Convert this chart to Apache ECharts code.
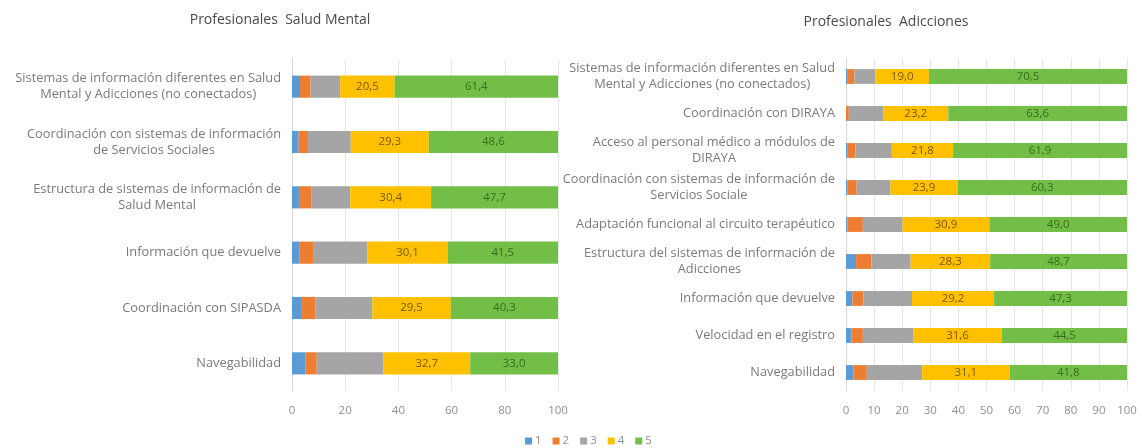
<!DOCTYPE html>
<html>
<head>
<meta charset="utf-8">
<script src="https://cdn.jsdelivr.net/npm/echarts@6/dist/echarts.min.js"></script>
<style>
  html, body { margin: 0; padding: 0; background: #fff; }
  #chart { width: 1142px; height: 448px; }
</style>
</head>
<body>
<div id="chart"></div>
<script>
// Profesionales Salud Mental (top to bottom)
var catsSM = [
  "Sistemas de información diferentes en Salud\nMental y Adicciones (no conectados)",
  "Coordinación con sistemas de información\nde Servicios Sociales",
  "Estructura de sistemas de información de\nSalud Mental",
  "Información que devuelve",
  "Coordinación con SIPASDA",
  "Navegabilidad"
];
var sm1 = [3.0, 2.5, 2.6, 2.7, 3.4, 5.0];
var sm2 = [4.0, 3.5, 4.8, 5.5, 5.5, 4.3];
var sm3 = [11.1, 16.1, 14.5, 20.2, 21.3, 25.0];
var sm4 = [20.5, 29.3, 30.4, 30.1, 29.5, 32.7];
var sm5 = [61.4, 48.6, 47.7, 41.5, 40.3, 33.0];

// Profesionales Adicciones (top to bottom)
var catsAD = [
  "Sistemas de información diferentes en Salud\nMental y Adicciones (no conectados)",
  "Coordinación con DIRAYA",
  "Acceso al personal médico a módulos de\nDIRAYA",
  "Coordinación con sistemas de información de\nServicios Sociale",
  "Adaptación funcional al circuito terapéutico",
  "Estructura del sistemas de información de\nAdicciones",
  "Información que devuelve",
  "Velocidad en el registro",
  "Navegabilidad"
];
var ad1 = [0.4, 0, 0.6, 0.5, 0.5, 3.6, 2.3, 2.0, 2.7];
var ad2 = [2.6, 1.0, 2.7, 3.3, 5.5, 5.4, 3.9, 4.0, 4.7];
var ad3 = [7.5, 12.2, 13.0, 12.0, 14.1, 14.0, 17.3, 17.9, 19.7];
var ad4 = [19.0, 23.2, 21.8, 23.9, 30.9, 28.3, 29.2, 31.6, 31.1];
var ad5 = [70.5, 63.6, 61.9, 60.3, 49.0, 48.7, 47.3, 44.5, 41.8];

var names = ["1", "2", "3", "4", "5"];
var colors = ["#5B9BD5", "#ED7D31", "#A5A5A5", "#FFC000", "#72BE46"];
var labelColors = [null, null, null, "#7a5a00", "#3b6b1f"];
var font = "'Open Sans', sans-serif";

var chart = echarts.init(document.getElementById("chart"));

// etiquetas de categoria: bloque alineado a la derecha, lineas centradas
function catLabel(v) {
  return v.split("\n").map(function (l) { return "{c|" + l + "}"; }).join("\n");
}

function makeX(idx, interval) {
  return {
    type: "value", gridIndex: idx, min: 0, max: 100, interval: interval,
    axisLine: { show: false }, axisTick: { show: false },
    axisLabel: { color: "#8f8f8f", fontSize: 11.5, fontFamily: font, margin: 14 },
    splitLine: { lineStyle: { color: "#e6e6e6" } }
  };
}
function makeY(idx, cats) {
  return {
    type: "category", gridIndex: idx, data: cats, inverse: true,
    axisLine: { lineStyle: { color: "#d9d9d9" } }, axisTick: { show: false },
    axisLabel: {
      color: "#7a7a7a", fontSize: 12.8, fontFamily: font, margin: 11,
      lineHeight: 16, formatter: catLabel,
      rich: { c: { align: "center", color: "#7a7a7a", fontSize: 12.8, fontFamily: font, lineHeight: 16 } }
    }
  };
}

var series = [];
[[sm1, sm2, sm3, sm4, sm5], [ad1, ad2, ad3, ad4, ad5]].forEach(function (set, g) {
  set.forEach(function (arr, i) {
    series.push({
      name: names[i], type: "bar", stack: "s" + g,
      xAxisIndex: g, yAxisIndex: g,
      barWidth: "40%",
      data: arr,
      itemStyle: { color: colors[i] },
      label: {
        show: i >= 3, position: "inside",
        color: labelColors[i] || "#444", fontSize: 11.5, fontFamily: font,
        formatter: function (p) { return p.value.toFixed(1).replace(".", ","); }
      }
    });
  });
});

chart.setOption({
  animation: false,
  color: colors,
  title: [
    { text: "Profesionales  Salud Mental", left: 275, top: 8, textAlign: "center",
      textStyle: { fontSize: 14, fontWeight: "normal", color: "#4a4a4a", fontFamily: font } },
    { text: "Profesionales  Adicciones", left: 881, top: 10, textAlign: "center",
      textStyle: { fontSize: 14, fontWeight: "normal", color: "#4a4a4a", fontFamily: font } }
  ],
  legend: {
    data: names, left: 520, top: 430, itemWidth: 7, itemHeight: 7, itemGap: 11,
    icon: "rect",
    textStyle: { color: "#8f8f8f", fontSize: 11.5, fontFamily: font, padding: [0, 0, 0, -2] }
  },
  grid: [
    { left: 292, right: 584, top: 59, bottom: 57 },
    { left: 846, right: 15, top: 58, bottom: 57 }
  ],
  xAxis: [makeX(0, 20), makeX(1, 10)],
  yAxis: [makeY(0, catsSM), makeY(1, catsAD)],
  series: series
});
</script>
</body>
</html>
